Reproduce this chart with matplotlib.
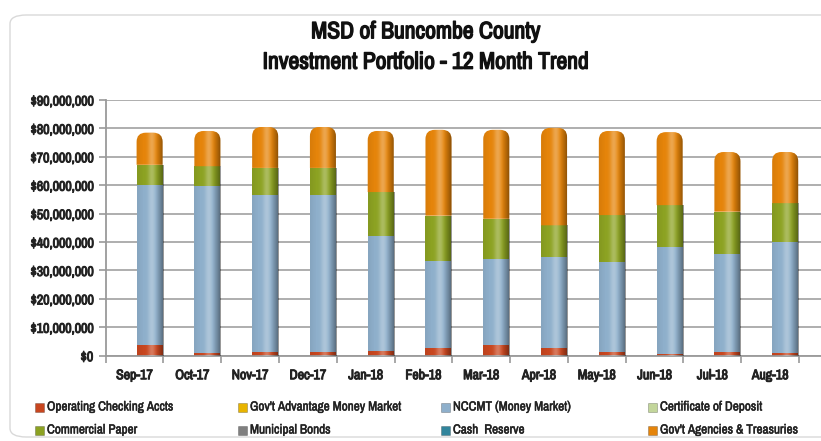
import numpy as np
import matplotlib
matplotlib.use("Agg")
import matplotlib.pyplot as plt
import matplotlib.patheffects as pe
from matplotlib.path import Path
from matplotlib.patches import PathPatch, FancyBboxPatch, Rectangle

plt.rcParams['font.family'] = ['Archivo Narrow', 'Roboto Condensed', 'DejaVu Sans']

months = ["Sep-17", "Oct-17", "Nov-17", "Dec-17", "Jan-18", "Feb-18",
          "Mar-18", "Apr-18", "May-18", "Jun-18", "Jul-18", "Aug-18"]

# values in millions of dollars
operating = [3.6, 0.8, 1.3, 1.3, 1.5, 2.6, 3.7, 2.8, 1.2, 0.6, 1.2, 1.1]
govt_adv = [0] * 12
nccmt = [56.5, 58.9, 55.2, 55.2, 40.7, 30.7, 30.4, 32.1, 31.9, 37.7, 34.7, 38.9]
cert_dep = [0] * 12
comm_paper = [7.1, 7.0, 9.6, 9.6, 15.4, 16.0, 14.1, 11.0, 16.4, 14.7, 14.8, 13.7]
muni_bonds = [0] * 12
cash_reserve = [0] * 12
agencies = [11.3, 12.4, 14.4, 14.4, 21.5, 30.2, 31.3, 34.3, 29.6, 25.7, 21.0, 18.0]

series = [
    ("Operating Checking Accts", operating, "#C8461F"),
    ("Gov't Advantage Money Market", govt_adv, "#E8B400"),
    ("NCCMT (Money Market)", nccmt, "#8EAFCB"),
    ("Certificate of Deposit", cert_dep, "#C3D69B"),
    ("Commercial Paper", comm_paper, "#8CA222"),
    ("Municipal Bonds", muni_bonds, "#7F7F7F"),
    ("Cash  Reserve", cash_reserve, "#31859C"),
    ("Gov't Agencies & Treasuries", agencies, "#E5840A"),
]

fig = plt.figure(figsize=(8.21, 4.41), dpi=100)
ax = fig.add_axes([0.1287, 0.1934, 0.8713, 0.5798])

x = np.arange(len(months))
offset = 0.26
width = 0.45
px_x = 57.7          # pixels per category
px_y = 2.838         # pixels per million


def bold(lw, c):
    return [pe.withStroke(linewidth=lw, foreground=c)]


def shade(patch, x0, x1, y0, y1):
    t = np.linspace(0, 1, 64)
    hi = np.zeros((1, 64, 4))
    hi[..., :3] = 1.0
    hi[0, :, 3] = 0.28 * np.exp(-((t - 0.55) / 0.14) ** 2)
    dk = np.zeros((1, 64, 4))
    dk[0, :, 3] = (0.42 * np.clip((t - 0.68) / 0.32, 0, 1) ** 1.2
                   + 0.06 * np.clip((0.25 - t) / 0.25, 0, 1))
    for img in (hi, dk):
        im = ax.imshow(img, extent=[x0, x1, y0, y1], aspect='auto',
                       interpolation='bilinear', zorder=3)
        im.set_clip_path(patch)


bottom = np.zeros(len(months))
for i, (name, vals, col) in enumerate(series):
    vals = np.array(vals, dtype=float)
    bars = ax.bar(x + offset, vals, width, bottom=bottom, color=col,
                  linewidth=0, zorder=2)
    last = i == len(series) - 1
    for b in bars:
        if b.get_height() <= 0:
            continue
        x0, y0 = b.get_x(), b.get_y()
        x1, y1 = x0 + b.get_width(), y0 + b.get_height()
        patch = b
        if last:
            rx = 0.16
            ry = 0.16 * px_x / px_y
            verts = [(x0, y0), (x0, y1 - ry), (x0, y1), (x0 + rx, y1),
                     (x1 - rx, y1), (x1, y1), (x1, y1 - ry), (x1, y0), (x0, y0)]
            codes = [Path.MOVETO, Path.LINETO, Path.CURVE3, Path.CURVE3,
                     Path.LINETO, Path.CURVE3, Path.CURVE3, Path.LINETO,
                     Path.CLOSEPOLY]
            patch = PathPatch(Path(verts, codes), facecolor=col,
                              linewidth=0, zorder=2)
            ax.add_patch(patch)
            b.set_visible(False)
        shade(patch, x0, x1, y0, y1)
    bottom = bottom + vals

ax.set_xlim(-0.5, 11.88)
ax.set_ylim(0, 90)
ax.set_yticks(np.arange(0, 91, 10))
ax.set_yticklabels(["${:,.0f}".format(v * 1e6) for v in np.arange(0, 91, 10)],
                   fontsize=10, color='#222222')
ax.set_xticks(x)
ax.set_xticklabels(months, fontsize=10, color='#222222')
for lab in ax.get_xticklabels() + ax.get_yticklabels():
    lab.set_path_effects(bold(0.7, '#222222'))
ax.set_xticks(np.arange(-0.5, 12, 1), minor=True)
ax.tick_params(axis='x', which='major', length=0, pad=9)
ax.tick_params(axis='x', which='minor', length=5, color='#9A9A9A', width=1.2)
ax.tick_params(axis='y', length=5, color='#9A9A9A', width=1.2, pad=4)
ax.grid(axis='y', color='#A8A8A8', linewidth=1.3, zorder=0)
ax.set_axisbelow(True)
for s in ['top', 'right']:
    ax.spines[s].set_visible(False)
for s in ['left', 'bottom']:
    ax.spines[s].set_color('#9A9A9A')
    ax.spines[s].set_linewidth(1.3)

fig.text(0.518, 0.928, "MSD of Buncombe County", ha='center', va='center',
         fontsize=17, color='#111111', path_effects=bold(1.0, '#111111'))
fig.text(0.518, 0.859, "Investment Portfolio - 12 Month Trend", ha='center',
         va='center', fontsize=17, color='#111111',
         path_effects=bold(1.0, '#111111'))

# legend laid out in 2 rows x 4 columns
col_x = [39, 242, 445, 652]
row_y = [407, 430]
for i, (name, vals, col) in enumerate(series):
    cx = col_x[i % 4]
    cy = row_y[i // 4]
    fig.patches.append(Rectangle(((cx - 4.5) / 821, 1 - (cy + 4.5) / 441),
                                 9 / 821, 9 / 441, transform=fig.transFigure,
                                 facecolor=col, edgecolor='#00000040',
                                 linewidth=0.6))
    fig.text((cx + 8) / 821, 1 - cy / 441, name, ha='left', va='center',
             fontsize=9.5, color='#222222', path_effects=bold(0.35, '#222222'))

fig.patches.append(FancyBboxPatch((10 / 821, 4 / 441), 830 / 821, 422 / 441,
                                  boxstyle="round,pad=0,rounding_size=0.02",
                                  transform=fig.transFigure, facecolor='none',
                                  edgecolor='#D9D9D9', linewidth=1))

fig.savefig("out.png", dpi=100)
